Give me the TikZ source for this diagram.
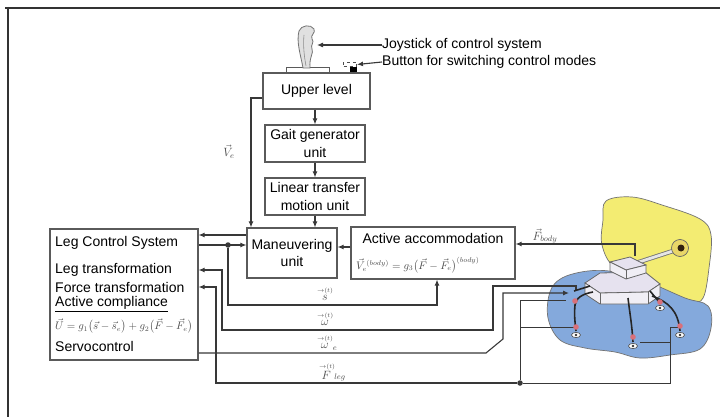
\documentclass[tikz,border=0pt]{standalone}
\usepackage{fontspec}
\setmainfont{Liberation Sans}
\usepackage{amsmath}
\usetikzlibrary{arrows.meta,calc}
\definecolor{ln}{HTML}{383838}
\definecolor{boxc}{HTML}{5A5A5A}
\definecolor{yel}{HTML}{F3EC72}
\definecolor{blu}{HTML}{84A9DC}
\definecolor{lav}{HTML}{E6E2EF}
\definecolor{jnt}{HTML}{D9707A}
\tikzset{
  box/.style={draw=boxc,line width=1.2pt,inner sep=0pt,font=\fontsize{14}{17.5}\selectfont,align=center},
  lbl/.style={font=\fontsize{14}{17}\selectfont,anchor=west,inner sep=0pt},
  conn/.style={draw=ln,line width=1.1pt},
  arr/.style={conn,-{Latex[length=6pt,width=5pt]}},
  dotn/.style={circle,fill=ln,inner sep=0pt,minimum size=5.5pt},
  mlab/.style={font=\fontsize{12}{12}\selectfont,inner sep=0pt,text=black!70},
  flab/.style={font=\fontsize{10.5}{11}\selectfont,inner sep=0pt,text=black!70,anchor=west},
  legln/.style={draw=black!85,line width=1.6pt},
  blob/.style={draw=black!55,line width=0.7pt},
}
\begin{document}
\begin{tikzpicture}[x=1pt,y=-1pt]
\useasboundingbox (0,0) rectangle (720,417);
\fill[white] (0,0) rectangle (720,417);
% frame
\draw[black!80,line width=2pt] (5,8) -- (720,8);
\draw[black!80,line width=2pt] (8,7) -- (8,417);

% background blobs
\filldraw[fill=yel,blob] plot[smooth cycle,tension=0.6] coordinates {(606,201) (632,197) (662,205) (700,219) (711,235) (709,268) (703,298) (690,300) (650,285) (615,268) (602,245) (603,220)};
\filldraw[fill=blu,blob] plot[smooth cycle,tension=0.6] coordinates {(550,292) (562,278) (588,271) (615,272) (650,283) (685,298) (708,306) (711,328) (700,349) (670,355) (640,358) (615,352) (585,348) (560,340) (548,318)};

% joystick
\filldraw[fill=white,draw=boxc,line width=1pt] (286,68) rectangle (329,73);
\filldraw[fill=black!12,draw=black!55,line width=0.8pt] (303,68) .. controls (301,56) and (296,42) .. (299,31) .. controls (301,25) and (311,24) .. (314,29) .. controls (316,33) and (310,35) .. (312,39) .. controls (315,42) and (310,45) .. (312,49) .. controls (314,53) and (309,57) .. (310,68) -- cycle;
\draw[black!45,line width=0.6pt] (304,35) .. controls (303,45) and (304,55) .. (306,66);
\coordinate (joy) at (317,45);
\node[draw=black!70,dashed,line width=1pt,minimum width=13,minimum height=4,inner sep=0pt] (btn) at (350,64.5) {};
\fill[black] (350,67) rectangle (357,73);

% boxes
\node[box,minimum width=107,minimum height=36] (upper) at (316.5,91) {Upper level};
\node[box,minimum width=100,minimum height=37] (gait) at (315,143.5) {Gait generator\\unit};
\node[box,minimum width=100,minimum height=37] (lin) at (315,196.5) {Linear transfer\\motion unit};
\node[box,minimum width=90,minimum height=50] (man) at (292,253) {Maneuvering\\unit};
\node[box,minimum width=164,minimum height=52] (acc) at (433,253) {};
\node[lbl,anchor=center] (acct) at (433,238) {Active accommodation};
\node[flab] (accf) at (356,265) {$\vec{V}_e^{\,(body)}=g_3\bigl(\vec{F}-\vec{F}_e\bigr)^{(body)}$};
\node[box,minimum width=148,minimum height=131] (leg) at (124,294.5) {};
\node[lbl] (l1) at (55,243) {Leg Control System};
\node[lbl] (l2) at (55,270) {Leg transformation};
\node[lbl] (l3) at (55,287) {Force transformation};
\node[lbl] (l4) at (55,304) {\underline{Active compliance}};
\node[flab] (l5) at (55,326) {$\vec{U}=g_1\bigl(\vec{s}-\vec{s}_e\bigr)+g_2\bigl(\vec{F}-\vec{F}_e\bigr)$};
\node[lbl] (l6) at (55,346) {Servocontrol};

% top labels
\node[lbl] (joyt) at (382,45) {Joystick of control system};
\node[lbl] (btnt) at (382,62) {Button for switching control modes};
\draw[arr] (joyt.west) -- (joy);
\draw[arr] (btnt.west) -- (btn.east);

% vertical chain
\draw[arr] (upper.south -| gait.north) -- (gait.north);
\draw[arr] (gait.south) -- (lin.north);
\draw[arr] (lin.south) -- (lin.south |- man.north);
\draw[arr] (upper.west |- 0,98) -- (251,98) -- (251,0 |- man.north);
\node[mlab] (ve) at (229,152) {$\vec{V}_e$};

% left connections
\draw[arr] (man.west |- 0,235) -- (leg.east |- 0,235);
\draw[arr] (leg.east |- 0,245) -- (man.west |- 0,245);
\node[dotn] (d1) at (228,245) {};
\draw[arr] (acc.west |- 0,247) -- (man.east |- 0,247);

% s line
\draw[arr] (d1) -- (228,305) -- (437,305) -- (437,0 |- acc.south);
\node[mlab] (sl) at (325,294) {$\stackrel{\scriptscriptstyle\rightarrow(t)}{s}$};
% omega line
\coordinate (rw) at (576,290);
\draw[arr] (rw) -- (576,286) -- (493,286) -- (493,330) -- (222,330) -- (222,270) -- (leg.east |- 0,270);
\node[mlab] (wl) at (325,319) {$\stackrel{\scriptscriptstyle\rightarrow(t)}{\omega}$};
% omega_e line
\coordinate (rwe) at (569,293);
\draw[arr] (leg.east |- 0,353) -- (486,353) -- (503,339) -- (503,293) -- (rwe);
\node[mlab] (wel) at (327,343) {$\stackrel{\scriptscriptstyle\rightarrow(t)}{\omega}_{e}$};
% F_leg line
\node[dotn] (d2) at (520,383) {};
\draw[arr] (d2) -- (216,383) -- (216,287) -- (leg.east |- 0,287);
\node[mlab] (fl) at (332,372) {$\stackrel{\scriptscriptstyle\rightarrow(t)}{F}_{leg}$};
\draw[conn,line width=0.8pt] (d2) -- (520,300) -- (566,300);
\draw[conn,line width=0.8pt] (520,327) -- (575,327);
\draw[conn,line width=0.8pt] (d2) -- (670,383) -- (670,327) -- (679,327);
\draw[conn,line width=0.8pt] (670,342) -- (640,342);
% F_body
\coordinate (rb) at (635,256);
\draw[arr] (rb) -- (635,244) -- (acc.east |- 0,244);
\node[mlab] (fb) at (545,236) {$\vec{F}_{body}$};

% robot: arm and ball
\draw[black!55,line width=4.5pt] (636,263) -- (676,250);
\draw[black!10,line width=2.8pt] (636,263) -- (676,250);
\filldraw[fill=yel!80!brown,draw=black!60,line width=0.7pt] (680,248) circle (8.5);
\fill[black!75!brown] (681,248) circle (3.5);
% body
\filldraw[fill=lav,draw=black!60,line width=0.8pt] (585,283) -- (600,273) -- (645,272) -- (660,284) -- (648,292) -- (600,293) -- cycle;
\filldraw[fill=lav!60!white,draw=black!60,line width=0.8pt] (585,283) -- (600,293) -- (648,292) -- (660,284) -- (660,296) -- (648,304) -- (600,304) -- (585,294) -- cycle;
\draw[black!60,line width=0.8pt] (600,293) -- (600,304) (648,292) -- (648,304);
% turret
\filldraw[fill=lav,draw=black!60,line width=0.8pt] (610,262) -- (630,257) -- (646,265) -- (626,270) -- cycle;
\filldraw[fill=lav!60!white,draw=black!60,line width=0.8pt] (610,262) -- (626,270) -- (646,265) -- (646,273) -- (626,279) -- (610,271) -- cycle;
\draw[black!60,line width=0.8pt] (626,270) -- (626,279);
% legs
\draw[legln] (593,292) .. controls (582,294) and (576,298) .. (575,305) .. controls (574,315) and (575,322) .. (576,331);
\draw[legln] (628,298) .. controls (630,315) and (632,325) .. (633,342);
\draw[legln] (652,296) .. controls (668,302) and (678,310) .. (680,331);
\draw[legln] (650,291) -- (660,303);
\draw[legln] (590,286) -- (574,291);
% joints and feet
\foreach \p in {(575,301),(576,327),(633,337),(680,326),(660,302)} \fill[jnt] \p circle (2.8);
\foreach \p in {(576,335),(633,346),(680,335),(660,308)} {
  \filldraw[fill=white,draw=black!70,line width=0.6pt] \p ellipse (4.5 and 2.6);
  \fill[black!80] \p circle (1.3);
}
\end{tikzpicture}
\end{document}
